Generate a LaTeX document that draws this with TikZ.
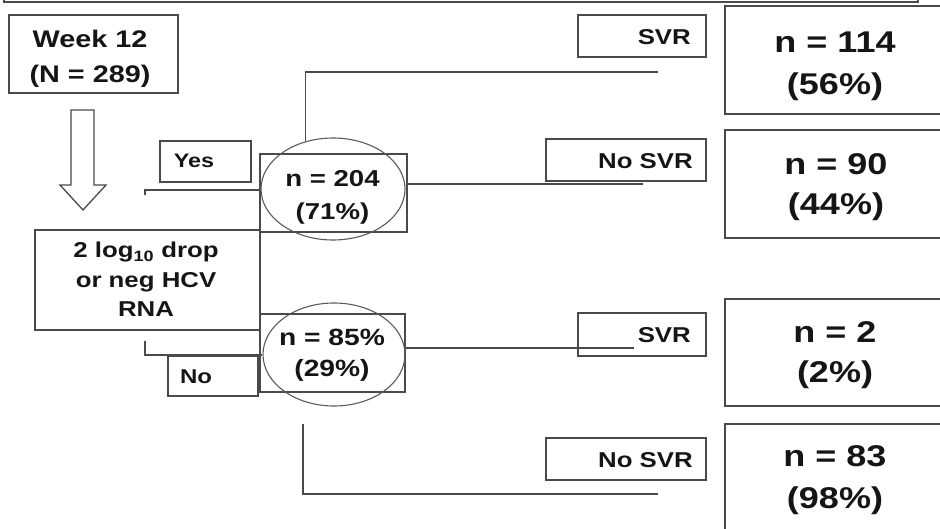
\documentclass[tikz,border=0pt]{standalone}
\usepackage{fontspec}
\setmainfont{Liberation Sans}[FakeStretch=1.2]
\usetikzlibrary{shapes.geometric}
\definecolor{linec}{HTML}{4A4A4A}
\definecolor{txtc}{HTML}{151515}
\definecolor{ellc}{HTML}{5A5A5A}
\tikzset{
  box/.style={draw=linec, line width=1.3pt, rectangle, inner sep=0pt},
  oval/.style={draw=ellc, line width=1.1pt, ellipse, inner sep=0pt},
  conn/.style={draw=linec, line width=1.3pt},
  lbl/.style={inner sep=0pt, text=txtc, align=center},
}
\begin{document}
\begin{tikzpicture}[x=1pt,y=-1pt]
\useasboundingbox (0,0) rectangle (940,529);
\clip (0,0) rectangle (940,529);
% top frame
\draw[conn] (4,-10) -- (4,2) -- (918,2) -- (918,-10);
% boxes
\node[box, minimum width=169pt, minimum height=78pt] (week) at (93.5,54) {};
\node[lbl, font=\bfseries\fontsize{24}{35}\selectfont] (weekt) at (90,59) {Week 12\\(N = 289)};
\draw[linec, line width=1.3pt] (71,110) -- (94,110) -- (94,185) -- (106,185) -- (83,210) -- (60,185) -- (71,185) -- cycle;
\node[box, minimum width=91pt, minimum height=41pt] (yesbox) at (205.5,161.5) {};
\node[lbl, anchor=base, font=\bfseries\fontsize{19.5}{24}\selectfont] (yest) at (194,168) {Yes};
\node[box, minimum width=225pt, minimum height=100pt] (drop) at (147.5,280) {};
\node[lbl, font=\bfseries\fontsize{21.5}{29.5}\selectfont] (dropt) at (146,279.5) {2 log\textsubscript{10} drop\\or neg HCV\\RNA};
\node[box, minimum width=90pt, minimum height=40pt] (nobox) at (213,376) {};
\node[lbl, anchor=base, font=\bfseries\fontsize{20}{24}\selectfont] (not) at (196,383) {No};
% n=204
\node[box, minimum width=147pt, minimum height=78pt] (r204) at (333.5,193) {};
\node[oval, minimum width=144pt, minimum height=102pt] (e204) at (333,189) {};
\node[lbl, font=\bfseries\fontsize{23}{33}\selectfont] (t204) at (332.5,197.5) {n = 204\\(71\%)};
% n=85
\node[box, minimum width=145pt, minimum height=78pt] (r85) at (332.5,353) {};
\node[oval, minimum width=142pt, minimum height=103pt] (e85) at (334,354.5) {};
\node[lbl, font=\bfseries\fontsize{23.5}{31}\selectfont] (t85) at (332,355.5) {n = 85\%\\(29\%)};
% labels SVR
\node[box, minimum width=128pt, minimum height=42pt] (svr1) at (642,36) {};
\node[lbl, anchor=base east, font=\bfseries\fontsize{21.5}{24}\selectfont] (svr1t) at (691,45) {SVR};
\node[box, minimum width=160pt, minimum height=42pt] (nosvr1) at (626,160) {};
\node[lbl, anchor=base east, font=\bfseries\fontsize{21.5}{24}\selectfont] (nosvr1t) at (693,169) {No SVR};
\node[box, minimum width=128pt, minimum height=43pt] (svr2) at (642,334.5) {};
\node[lbl, anchor=base east, font=\bfseries\fontsize{21.5}{24}\selectfont] (svr2t) at (691,343) {SVR};
\node[box, minimum width=160pt, minimum height=42pt] (nosvr2) at (626,459) {};
\node[lbl, anchor=base east, font=\bfseries\fontsize{21.5}{24}\selectfont] (nosvr2t) at (693,467) {No SVR};
% results
\node[box, minimum width=235pt, minimum height=108pt] (res114) at (842.5,60) {};
\node[lbl, font=\bfseries\fontsize{30}{42}\selectfont] (res114t) at (835,66) {n = 114\\(56\%)};
\node[box, minimum width=235pt, minimum height=108pt] (res90) at (842.5,184) {};
\node[lbl, font=\bfseries\fontsize{30}{40}\selectfont] (res90t) at (836,187.5) {n = 90\\(44\%)};
\node[box, minimum width=235pt, minimum height=107pt] (res2) at (842.5,352.5) {};
\node[lbl, font=\bfseries\fontsize{30}{40}\selectfont] (res2t) at (835,355.5) {n = 2\\(2\%)};
\node[box, minimum width=235pt, minimum height=136pt] (res83) at (842.5,492) {};
\node[lbl, font=\bfseries\fontsize{30}{42}\selectfont] (res83t) at (835,480.5) {n = 83\\(98\%)};
% connectors
\coordinate (yesfoot) at (145,195);
\draw[conn] (yesfoot) -- (145,190) -- (e204.west |- 0,190);
\coordinate (topend) at (658,72);
\draw[conn] (e204.120) -- (e204.120 |- topend) -- (topend);
\coordinate (midend) at (643,184);
\draw[conn] (r204.east |- midend) -- (midend);
\coordinate (nofoot) at (145,341);
\draw[conn] (nofoot) -- (145,355) -- (e85.west |- 0,355);
\coordinate (svr2end) at (634,348);
\draw[conn] (r85.east |- svr2end) -- (svr2end);
\coordinate (botstart) at (303,424);
\coordinate (botend) at (658,494);
\draw[conn] (botstart) -- (botstart |- botend) -- (botend);
\end{tikzpicture}
\end{document}
